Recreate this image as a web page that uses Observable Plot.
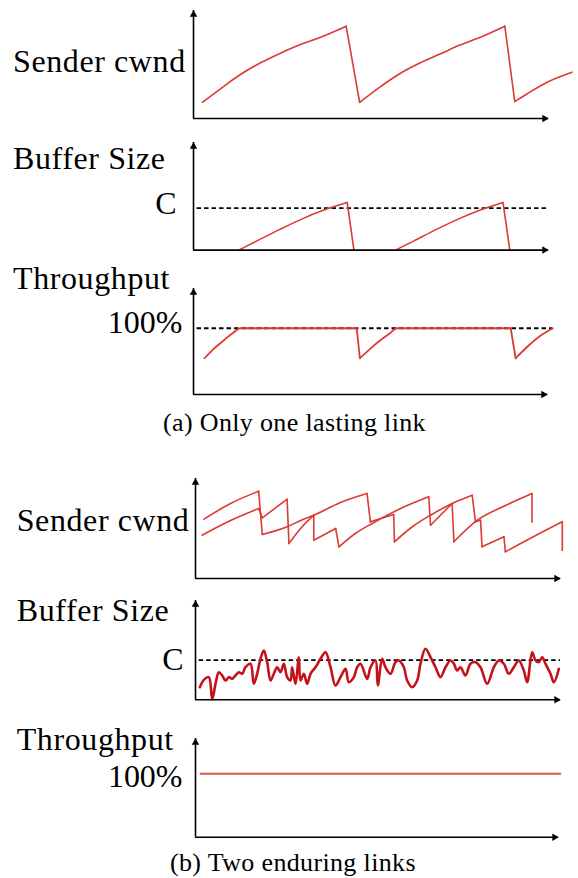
<!DOCTYPE html>
<html><head><meta charset="utf-8">
<script src="https://cdn.jsdelivr.net/npm/d3@7"></script>
<script src="https://cdn.jsdelivr.net/npm/@observablehq/plot@0.6"></script>
<style>
body{margin:0;background:#fff;}
#root{position:relative;width:578px;height:878px;font-family:"Liberation Serif","Times New Roman",serif;color:#000;overflow:hidden;}
.lab{position:absolute;font-size:32px;letter-spacing:0.6px;line-height:1;white-space:nowrap;}
.cap{position:absolute;font-size:26px;letter-spacing:0.35px;line-height:1;white-space:nowrap;}
</style></head><body><div id="root"></div>
<script>
// ---------- (a) Only one lasting link ----------
// time (0-100 across the axis) and value (0-100 up the axis)
const cwndA_t = [2.5, 7.6, 13.2, 18.9, 24.5, 30.1, 35.8, 43.0, 46.8, 52.7, 58.3, 63.9, 69.6, 75.2, 80.8, 87.7, 90.5, 94.0, 99.6, 106.6];
const cwndA_v = [15, 27.5, 40.7, 51.6, 60.5, 68.5, 75.3, 85.5, 15, 29.6, 41.9, 51.6, 59.9, 68.2, 75.3, 85.5, 15.7, 22.9, 33.6, 42.9];

const bufA1_t = [12.8, 17.9, 24.5, 31.1, 36.7, 43.3, 45.2];
const bufA1_v = [0, 8.6, 19.5, 29.7, 37.2, 44.2, 0];
const bufA2_t = [56.9, 62.1, 68.6, 75.2, 80.8, 87.2, 89.1];
const bufA2_v = [0, 8.6, 19.5, 29.7, 37.2, 44.2, 0];
const capA = 39;          // "C"
const capA_span = [1.0, 99.6];

const thrA_t = [3.1, 5.7, 8.5, 11.4, 13.2, 46.1, 47.0, 49.9, 52.7, 55.5, 57.4, 89.6, 91.0, 94.0, 97.7, 101.5];
const thrA_v = [34.2, 43.1, 50.9, 58.8, 62.5, 62.5, 34.2, 43.1, 50.9, 57.8, 62.5, 62.5, 34.2, 44.1, 54.7, 62.5];
const fullA = 62.5;       // "100%"
const fullA_span = [1.0, 101.5];

// ---------- (b) Two enduring links ----------
const cwndB1_t = [2.3, 9.6, 17.3, 18.3, 25.1, 28.8, 32.4, 39.7, 47.0, 47.9, 54.3, 54.5, 59.5, 64.4, 70.3, 75.8, 76.7, 78.1, 78.5, 84.5, 84.9, 93.2, 100.5, 100.5];
const cwndB1_v = [59.3, 75, 87.3, 44, 51.7, 58, 63.3, 76, 85, 56.7, 64, 36.7, 52, 63.3, 75, 83.3, 56.7, 58.3, 31.7, 41.7, 26.7, 43, 56.7, 28.3];
const cwndB2_t = [1.8, 9.6, 17.3, 18.3, 25.1, 25.6, 28.8, 32.4, 32.4, 38.4, 39.3, 43.8, 48.4, 56.2, 63.9, 64.4, 70.3, 70.8, 77.2, 84.9, 92.2, 92.2];
const cwndB2_v = [43.3, 58, 70, 60.7, 79.3, 35, 50, 63.3, 38.3, 50, 31.7, 45, 55, 70, 81.7, 53.3, 75, 36.7, 58.3, 73, 85, 56.7];

const bufB_t = [1.19, 2.28, 3.65, 4.57, 5.48, 6.39, 7.31, 8.22, 9.13, 10.05, 10.96, 11.87, 12.79, 13.70, 15.07, 15.98, 16.89, 17.81, 18.72, 19.63, 20.55, 21.46, 22.37, 23.29, 24.2, 25.11, 26.03, 26.48, 27.4, 28.31, 28.77, 29.68, 30.59, 31.51, 32.88, 34.25, 35.62, 36.99, 38.36, 39.73, 41.1, 42.01, 43.38, 44.29, 45.21, 47.03, 47.95, 49.32, 49.95, 51.14, 52.05, 53.42, 54.79, 55.71, 57.08, 57.99, 59.36, 60.73, 61.64, 63.01, 64.38, 65.75, 67.12, 68.49, 69.86, 70.78, 71.69, 72.6, 73.97, 75.34, 76.71, 78.08, 79.91, 81.74, 83.1, 84.47, 85.84, 87.21, 88.58, 89.95, 90.87, 92.24, 93.15, 94.06, 94.98, 95.89, 97.26, 98.17, 99.54];
const bufB_v = [12.7, 20.1, 22.8, 0.5, 16.1, 27.8, 24.5, 19.4, 22.8, 21.1, 24.5, 27.8, 26.2, 32.8, 36.3, 16.1, 26.2, 41.3, 49.6, 37.9, 19.4, 26.2, 32.8, 27.8, 36.3, 22.8, 19.4, 32.8, 16.1, 42.9, 19.4, 26.2, 16.1, 26.2, 32.8, 41.3, 47.9, 32.8, 14.4, 22.8, 31.2, 17.7, 22.8, 32.8, 36.3, 21.1, 32.8, 39.6, 14.4, 41.3, 32.8, 26.2, 37.9, 39.6, 32.8, 19.4, 12.7, 19.4, 36.3, 51.4, 42.9, 32.8, 22.8, 32.8, 39.6, 36.3, 29.5, 32.8, 24.5, 36.3, 37.9, 32.8, 16.1, 32.8, 39.6, 36.3, 26.2, 32.8, 39.6, 29.5, 17.7, 47.9, 39.6, 37.9, 42.9, 36.3, 26.2, 17.7, 31.2];
const capB = 40;
const capB_span = [1.0, 100];

const thrB_t = [1.4, 100.5];
const thrB_v = [64.2, 64.2];
const fullB = 64.2;

const panelLabels = ["Sender cwnd", "Buffer Size", "Throughput"];
const captions = ["(a) Only one lasting link", "(b) Two enduring links"];

// ---------- drawing ----------
const RED = "#dc3a32";
const FONT = '"Liberation Serif","Times New Roman",serif';
const root = document.getElementById("root");
const rows = (t, v, s) => t.map((d, i) => ({t: d, v: v[i], s}));

// split a sawtooth series into smooth rising runs and straight drops
function sawtooth(t, v, key) {
  const pts = [], drops = [];
  let run = 0;
  for (let i = 0; i < t.length; i++) {
    if (i > 0 && v[i] < v[i - 1]) {
      drops.push({t1: t[i - 1], v1: v[i - 1], t2: t[i], v2: v[i]});
      run++;
    }
    pts.push({t: t[i], v: v[i], s: key + "-" + run});
  }
  return {pts, drops};
}
function sawMarks(series, stroke, width) {
  const pts = [], drops = [];
  series.forEach(([t, v], k) => { const r = sawtooth(t, v, k); pts.push(...r.pts); drops.push(...r.drops); });
  return [
    Plot.line(pts, {x: "t", y: "v", z: "s", stroke, strokeWidth: width, curve: "monotone-x"}),
    Plot.link(drops, {x1: "t1", y1: "v1", x2: "t2", y2: "v2", stroke, strokeWidth: width, strokeLinecap: "round"})
  ];
}

function panel(frame, marks, tick) {
  const pad = 8;
  const axisMarks = [
    Plot.ruleX([{x: 0}], {x: "x", y1: 0, y2: 100, stroke: "#000", strokeWidth: 1.6}),
    Plot.ruleY([{y: 0}], {y: "y", x1: 0, x2: 100, stroke: "#000", strokeWidth: 1.6}),
    Plot.dot([{x: 0, y: 100}], {x: "x", y: "y", symbol: "triangle", r: 2.8, fill: "#000", stroke: null, dy: 4}),
    Plot.dot([{x: 100, y: 0}], {x: "x", y: "y", symbol: "triangle", r: 2.8, rotate: 90, fill: "#000", stroke: null, dx: -4})
  ];
  if (tick) {
    axisMarks.push(Plot.axisY([tick.value], {
      anchor: "left", tickSize: 0, tickPadding: tick.pad, tickFormat: () => tick.label,
      fontSize: 32, dy: tick.dy
    }));
  }
  const svg = Plot.plot({
    width: 578,
    height: frame.xAxisY - frame.topY + 2 * pad,
    marginLeft: frame.axisX, marginRight: 578 - frame.arrowEnd,
    marginTop: pad, marginBottom: pad,
    x: {domain: [0, 100], axis: null},
    y: {domain: [0, 100], axis: null},
    style: {fontFamily: FONT, fontSize: "32px", background: "transparent", overflow: "visible", color: "#000"},
    marks: [...marks, ...axisMarks]
  });
  svg.style.position = "absolute";
  svg.style.left = "0px";
  svg.style.top = (frame.topY - pad) + "px";
  root.append(svg);
}

function label(text, left, centerY, cls, size) {
  const d = document.createElement("div");
  d.className = cls;
  d.textContent = text;
  d.style.left = left + "px";
  d.style.top = (centerY - 0.507 * size) + "px";
  root.append(d);
}

const dash = (y, span) => Plot.ruleY([{y}], {y: "y", x1: span[0], x2: span[1], stroke: "#000", strokeWidth: 1.8, strokeDasharray: "4.5,3"});

// (a) cwnd
panel({axisX: 193, topY: 10, xAxisY: 118, arrowEnd: 548},
  sawMarks([[cwndA_t, cwndA_v]], RED, 1.6));
// (a) buffer
panel({axisX: 193, topY: 141.7, xAxisY: 249.3, arrowEnd: 548}, [
  dash(capA, capA_span),
  ...sawMarks([[bufA1_t, bufA1_v], [bufA2_t, bufA2_v]], RED, 1.6)
], {value: capA, label: "C", pad: 17, dy: -4});
// (a) throughput
panel({axisX: 193, topY: 288, xAxisY: 394, arrowEnd: 547}, [
  dash(fullA, fullA_span),
  ...sawMarks([[thrA_t, thrA_v]], RED, 1.8)
], {value: fullA, label: "100%", pad: 11, dy: -6});

// (b) cwnd
panel({axisX: 195, topY: 478, xAxisY: 578, arrowEnd: 560},
  sawMarks([[cwndB1_t, cwndB1_v], [cwndB2_t, cwndB2_v]], RED, 1.6));
// (b) buffer
panel({axisX: 195, topY: 600, xAxisY: 699.3, arrowEnd: 560}, [
  dash(capB, capB_span),
  Plot.line(rows(bufB_t, bufB_v, "b"), {x: "t", y: "v", stroke: "#c4111a", strokeWidth: 2.6, curve: "catmull-rom"})
], {value: capB, label: "C", pad: 12, dy: 0});
// (b) throughput
panel({axisX: 195, topY: 738, xAxisY: 836.7, arrowEnd: 558}, [
  Plot.line(rows(thrB_t, thrB_v, "b"), {x: "t", y: "v", stroke: "#e0524c", strokeWidth: 2})
], {value: fullB, label: "100%", pad: 13, dy: 3});

// labels
label(panelLabels[0], 13, 61.7, "lab", 32);
label(panelLabels[1], 13, 158.3, "lab", 32);
label(panelLabels[2], 13, 278.3, "lab", 32);
label(panelLabels[0], 16.7, 520, "lab", 32);
label(panelLabels[1], 16.7, 610, "lab", 32);
label(panelLabels[2], 16.7, 739, "lab", 32);
label(captions[0], 163, 423, "cap", 26);
label(captions[1], 170, 863, "cap", 26);
</script></body></html>
